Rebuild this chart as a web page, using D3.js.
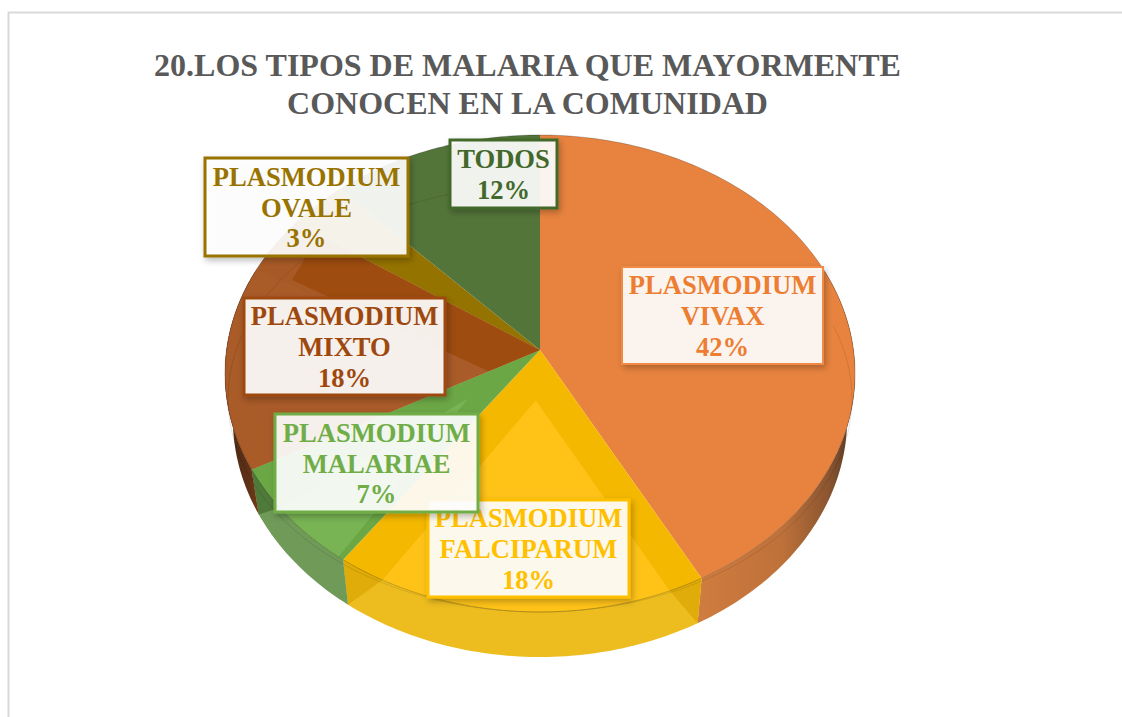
<!DOCTYPE html>
<html><head><meta charset="utf-8">
<script src="https://cdn.jsdelivr.net/npm/d3@7/dist/d3.min.js"></script>
<style>html,body{margin:0;padding:0;background:#fff;overflow:hidden}svg{display:block}</style>
</head><body><svg id="c" width="1122" height="717"></svg>
<script>
const categories = ["PLASMODIUM VIVAX","PLASMODIUM FALCIPARUM","PLASMODIUM MALARIAE","PLASMODIUM MIXTO","PLASMODIUM OVALE","TODOS"];
const values = [42.2,17.6,7.2,17.6,3.4,12];
const labelLines = [["PLASMODIUM","VIVAX","42%"],["PLASMODIUM","FALCIPARUM","18%"],["PLASMODIUM","MALARIAE","7%"],["PLASMODIUM","MIXTO","18%"],["PLASMODIUM","OVALE","3%"],["TODOS","12%"]];
const titleLines = ["20.LOS TIPOS DE MALARIA QUE MAYORMENTE","CONOCEN EN LA COMUNIDAD"];
const faceColors = ["#E8833F","#F4B800","#6CA746","#A85A26","#957300","#53753A"];
const innerColors = [null,"#FFC318","#78B354","#A95B28",null,null];
const sideColors = ["url(#gVivax)","#EDBD1F","#6F9A58","url(#gMixto)","#7a5e00","#445f30"];
const mitreColors = ["#C87638","#DFAC0A","#4F7A3A","#5b3018",null,null];
const textColors = ["#ED7D31","#FFC000","#70AD47","#9E480E","#997300","#43682B"];
const borderColors = ["#F08A45","#FFC000","#70AD47","#9E480E","#997300","#43682B"];
const labelBoxes = [[622,267,201,97],[428,500,201,97],[275,414,203,98],[244,298,201,97],[205,158,203,98],[450,140,107,68]];
const drawOrder = [0,1,2,3,4,5];
// [inset at slice start (deg), inset at slice end (deg), apex radius, apex position between start (0) and end (1)]
const innerInsets = [null,[6,8,.21,.5],[1,10,.3,.5],[0,14,.185,0],null,null];

const svg = d3.select("#c");
const defs = svg.append("defs");
function grad(id,stops,x1,x2){
  const g=defs.append("linearGradient").attr("id",id).attr("gradientUnits","userSpaceOnUse")
    .attr("x1",x1).attr("x2",x2).attr("y1",0).attr("y2",0);
  stops.forEach(s=>g.append("stop").attr("offset",s[0]).attr("stop-color",s[1]));
}
grad("gVivax",[[0,"#CF7C3F"],[.55,"#BE713A"],[.85,"#8C5630"],[1,"#5f3d25"]],700,850);
grad("gMixto",[[0,"#4a2a16"],[.6,"#5d3016"],[1,"#7a3f18"]],226,262);
const shadow=defs.append("filter").attr("id","sh").attr("x","-10%").attr("y","-10%").attr("width","125%").attr("height","130%");
shadow.append("feDropShadow").attr("dx",2).attr("dy",3).attr("stdDeviation",3).attr("flood-color","#000").attr("flood-opacity",.28);

// frame
svg.append("path").attr("d",d3.line()([[8.5,717],[8.5,12.5],[1122,12.5]])).attr("fill","none").attr("stroke","#d9d9d9").attr("stroke-width",2);

// perspective projection of the pie disc
const k=.0985, cx=540, cy=350, rx=313.5, ry=236.2;
const sx=d3.scaleLinear().domain([0,1]).range([cx,cx+rx]);
const sy=d3.scaleLinear().domain([0,1]).range([cy,cy+ry]);
function topPt(aDeg,r=1){
  const a=aDeg*Math.PI/180,u=r*Math.sin(a),v=-r*Math.cos(a),d=1-k*v;
  return [sx(u/d),sy(v/d)];
}
function botPt(aDeg){const p=topPt(aDeg);return [cx+(p[0]-cx)*.975,p[1]+45];}
const line=d3.line();
const arcs=d3.pie().sort(null).value(d=>d)(values).map((d,i)=>({i,a0:d.startAngle*180/Math.PI,a1:d.endAngle*180/Math.PI}));
function samples(a0,a1,fn){const n=Math.max(2,Math.ceil(Math.abs(a1-a0)));return d3.range(n+1).map(j=>fn(a0+(a1-a0)*j/n));}

// sides
const gSide=svg.append("g");
arcs.forEach(s=>{
  const a0=Math.max(s.a0,70),a1=Math.min(s.a1,290);
  if(a1<=a0) return;
  const pts=samples(a0,a1,a=>topPt(a)).concat(samples(a1,a0,botPt));
  gSide.append("path").attr("d",line(pts)+"Z").attr("fill",sideColors[s.i]);
  const ins=innerInsets[s.i];
  if(ins){
    if(s.i!==3) gSide.append("path").attr("d",line([topPt(s.a1),topPt(s.a1-ins[1]),botPt(s.a1)])+"Z").attr("fill",mitreColors[s.i]);
    if(s.i===1) gSide.append("path").attr("d",line([topPt(s.a0),topPt(s.a0+ins[0]),botPt(s.a0)])+"Z").attr("fill",mitreColors[s.i]);
  }
});

// top faces
const gTop=svg.append("g");
arcs.forEach(s=>{
  const pts=[topPt(0,0)].concat(samples(s.a0,s.a1,a=>topPt(a)));
  gTop.append("path").attr("d",line(pts)+"Z").attr("fill",faceColors[s.i]);
  const ins=innerInsets[s.i];
  if(ins){
    const apex=topPt(s.a0+(s.a1-s.a0)*ins[3],ins[2]);
    const pi=[apex].concat(samples(s.a0+ins[0],s.a1-ins[1],a=>topPt(a)));
    gTop.append("path").attr("d",line(pi)+"Z").attr("fill",innerColors[s.i]);
  }
  gTop.append("path").attr("d",line(samples(s.a0,s.a1,a=>topPt(a)))).attr("fill","none").attr("stroke","#000").attr("stroke-opacity",.22).attr("stroke-width",1);
});
// mixto: lighter outer crescent behind the darker band along its upper edge
const mixto=arcs[3], mixtoIns=innerInsets[3];
gTop.append("path").attr("d",line([topPt(0,0),topPt(mixto.a1,.9),topPt(mixto.a1-mixtoIns[1],.87),topPt(mixto.a0,mixtoIns[2])])+"Z").attr("fill","#9E4C0F");
// faint inner bevel ring, open across the top of the first slice
const ringPts=d3.range(70,361,3).map(a=>{const t=a*Math.PI/180;return [cx+312*Math.sin(t),398.5-213.5*Math.cos(t)];});
gTop.append("path").attr("d",line(ringPts)).attr("fill","none").attr("stroke","#000").attr("stroke-opacity",.1).attr("stroke-width",1);

// title
svg.append("g").selectAll("text").data(titleLines).join("text")
  .attr("x",527.5).attr("y",(d,i)=>76+i*38).attr("text-anchor","middle")
  .attr("font-family","Liberation Serif").attr("font-weight","bold").attr("font-size",32).attr("fill","#595959").text(d=>d);

// labels
const fs=26.6, lh=30.6;
drawOrder.forEach(i=>{
  const b=labelBoxes[i], g=svg.append("g");
  g.append("rect").attr("x",b[0]).attr("y",b[1]).attr("width",b[2]).attr("height",b[3])
    .attr("fill","#fff").attr("fill-opacity",.9).attr("stroke",borderColors[i]).attr("stroke-width",i===0?2:3)
    .attr("filter","url(#sh)");
  const L=labelLines[i], y0=b[1]+b[3]/2-(L.length-1)*lh/2+9.5;
  g.selectAll("text").data(L).join("text")
    .attr("x",b[0]+b[2]/2).attr("y",(d,j)=>y0+j*lh).attr("text-anchor","middle")
    .attr("font-family","Liberation Serif").attr("font-weight","bold").attr("font-size",fs)
    .attr("fill",textColors[i]).text(d=>d);
});
</script></body></html>
